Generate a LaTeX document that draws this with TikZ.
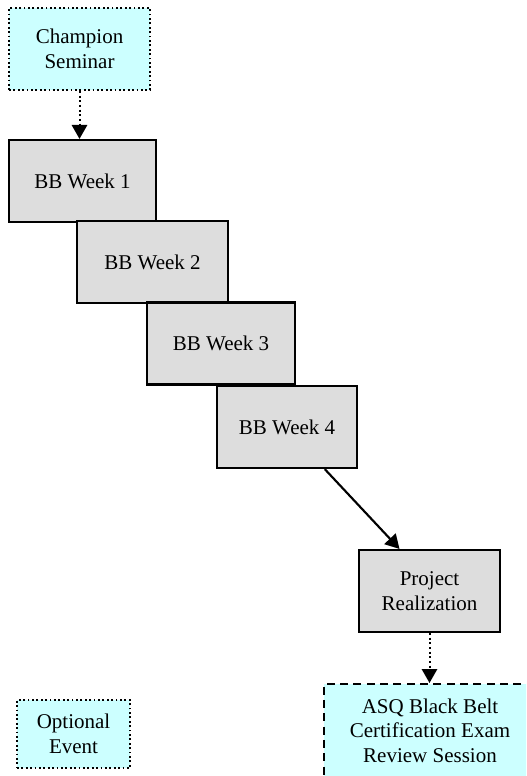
\documentclass[tikz,border=0pt]{standalone}
\usepackage{fontspec}
\setmainfont{Liberation Serif}
\usetikzlibrary{arrows.meta,positioning,calc}
\definecolor{weekgray}{HTML}{DDDDDD}
\definecolor{optcyan}{HTML}{CCFFFF}
\tikzset{
    %Define standard arrow tip
    >={Triangle[width=11.5pt,length=10.5pt]},
    %Define style for boxes
    weeknode/.style={
             rectangle,
             draw=black, line width=1.6pt,
             fill=weekgray,
             minimum width=110.25pt, minimum height=61.5pt,
             align=center,
             font=\fontsize{15.75}{18.5}\selectfont},
    optnode/.style={
             rectangle,
             draw=black, line width=1.3pt, dotted,
             fill=optcyan,
             minimum width=105.75pt, minimum height=61.5pt,
             align=center,
             font=\fontsize{15.75}{18.5}\selectfont},
    examnode/.style={
             rectangle, anchor=north,
             draw=black, line width=1.3pt, dash pattern=on 6pt off 4pt,
             fill=optcyan,
             minimum width=159pt, inner ysep=11pt, text depth=40pt,
             align=center,
             font=\fontsize{15.75}{18.5}\selectfont},
    % Define arrow style
    mainarrow/.style={
            ->,
            line width=1.6pt},
    optarrow/.style={
              ->,
              line width=1.5pt,
              dotted}
}
\begin{document}
\begin{tikzpicture}[x=0.75pt, y=-0.75pt]
 \clip (0,0) rectangle (526,776);
 \node[optnode] (champ) at (79.5,49) {Champion\\Seminar};
 \node[weeknode] (week1) at (82.5,181) {BB Week 1};
 \node[weeknode, minimum width=113.25pt] (week2) at (152.5,262) {BB Week 2};
 \node[weeknode, minimum width=111pt] (week3) at (221,343.5) {BB Week 3};
 \node[weeknode, minimum width=105pt] (week4) at (287,427) {BB Week 4};
 \node[weeknode, minimum width=105.75pt] (proj) at (429.5,591) {Project\\Realization};
 \node[examnode] (exam) at (430,683) {ASQ Black Belt\\Certification Exam\\Review Session};
 \node[optnode, minimum width=84.75pt, minimum height=51pt] (opt) at (73.5,734) {Optional\\Event};
 \path (champ.south) edge[optarrow] (champ.south |- week1.north)
       ([xshift=-25pt]week4.south east) edge[mainarrow] ([xshift=-22.5pt]proj.north)
       (proj) edge[optarrow] (proj.south |- exam.north);
\end{tikzpicture}
\end{document}
